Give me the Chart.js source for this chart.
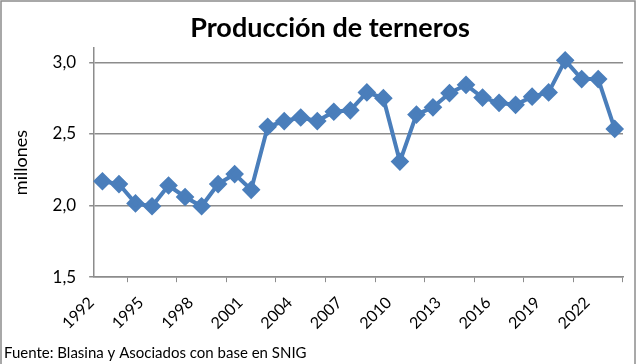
<!DOCTYPE html>
<html>
<head>
<meta charset="utf-8">
<script src="https://cdn.jsdelivr.net/npm/chart.js@4.4.1/dist/chart.umd.min.js"></script>
<style>
  html, body { margin: 0; padding: 0; background: #fff; }
  #wrap { width: 640px; height: 364px; }
</style>
</head>
<body>
<div id="wrap"><canvas id="myChart" width="640" height="364"></canvas></div>
<script>
const years = ['1992', '1993', '1994', '1995', '1996', '1997', '1998', '1999', '2000', '2001',
  '2002', '2003', '2004', '2005', '2006', '2007', '2008', '2009', '2010', '2011',
  '2012', '2013', '2014', '2015', '2016', '2017', '2018', '2019', '2020', '2021',
  '2022', '2023']
const terneros = [2.17, 2.15, 2.015, 1.995, 2.14, 2.06, 1.995, 2.15, 2.22, 2.11,
  2.55, 2.59, 2.615, 2.59, 2.655, 2.665, 2.79, 2.75, 2.307, 2.635,
  2.686, 2.785, 2.843, 2.754, 2.717, 2.703, 2.76, 2.79, 3.014, 2.883,
  2.883, 2.535]
const yTicks = [1.5, 2.0, 2.5, 3.0]
const chartTitle = 'Producción de terneros'

// marco gris y titulo (el titulo va un poco a la derecha del centro, como en el original)
const frame = {
  id: 'frame',
  beforeDraw(chart) {
    const c = chart.ctx
    c.save()
    c.fillStyle = '#fff'
    c.fillRect(0, 0, chart.width, chart.height)
    c.strokeStyle = '#8c8c8c'
    c.lineWidth = 1.5
    c.strokeRect(1, 1, 634, 380)
    c.fillStyle = '#000'
    c.font = 'bold 27px Lato'
    c.textAlign = 'center'
    c.textBaseline = 'middle'
    c.fillText(chartTitle, 330, 28)
    c.restore()
  }
}

const myChart = document.getElementById('myChart').getContext('2d')

const lineChart = new Chart(myChart, {
  type: 'line',
  data: {
    labels: years,
    datasets: [{
      label: chartTitle,
      data: terneros,
      borderColor: '#4A7EBB',
      backgroundColor: '#4A7EBB',
      borderWidth: 4,
      pointStyle: 'rectRot',
      pointRadius: 6.5,
      pointHoverRadius: 6.5,
      tension: 0
    }]
  },
  options: {
    responsive: false,
    animation: false,
    layout: { padding: { left: 4, right: 17, top: 48, bottom: 0 } },
    plugins: {
      legend: { display: false },
      tooltip: { enabled: false },
      title: { display: false },
      subtitle: {
        display: true,
        position: 'bottom',
        align: 'start',
        text: 'Fuente: Blasina y Asociados con base en SNIG',
        color: '#000',
        font: { family: 'Lato', size: 15 },
        padding: { top: 0, bottom: 2 }
      }
    },
    scales: {
      x: {
        offset: true,
        grid: {
          offset: true,
          drawOnChartArea: false,
          tickLength: 5,
          color: '#8c8c8c'
        },
        border: { color: '#8c8c8c', width: 1.5 },
        ticks: {
          autoSkip: false,
          minRotation: 45,
          maxRotation: 45,
          labelOffset: -11,
          padding: 11,
          color: '#000',
          font: { family: 'Lato', size: 16 },
          callback(value, index) {
            return index % 3 === 0 ? years[index] : null
          }
        }
      },
      y: {
        min: 1.5,
        max: 3.1,
        afterBuildTicks(axis) {
          axis.ticks = yTicks.map(v => ({ value: v }))
        },
        grid: {
          color: '#8c8c8c',
          lineWidth: 1.5,
          tickLength: 5
        },
        border: { color: '#8c8c8c', width: 1.5 },
        title: {
          display: true,
          text: 'millones',
          color: '#000',
          font: { family: 'Lato', size: 18 },
          padding: { top: 6, bottom: 8 }
        },
        ticks: {
          color: '#000',
          padding: 13,
          font: { family: 'Lato', size: 17 },
          callback(value) {
            return value.toFixed(1).replace('.', ',')
          }
        }
      }
    }
  },
  plugins: [frame]
})
</script>
</body>
</html>
